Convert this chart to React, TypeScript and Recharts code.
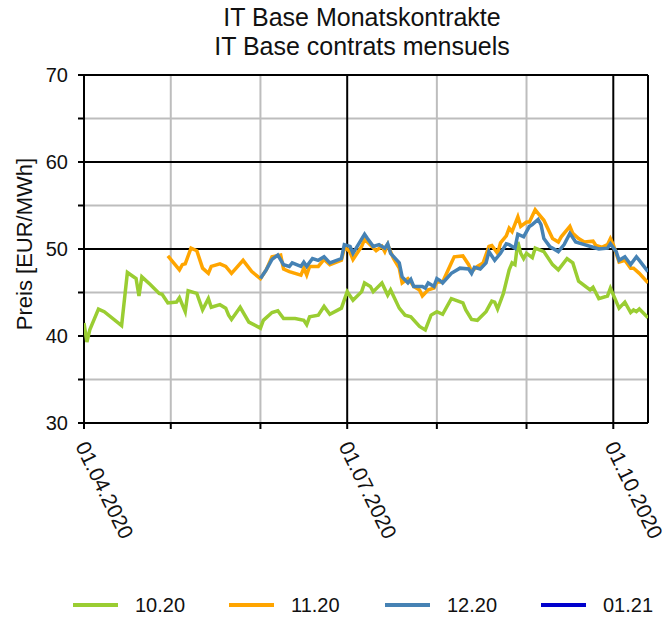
import React from "react";
import {
  LineChart, Line, XAxis, YAxis, ReferenceLine, Legend,
} from "recharts";

// days counted from 01.04.2020
const days1020 = [0, 1, 2, 5, 7, 13, 15, 18, 19, 20, 23, 26, 27, 29, 32, 33, 35, 36, 39, 41, 43, 44, 47, 49, 50, 51, 54, 57, 61, 62, 65, 67, 69, 73, 76, 77, 78, 81, 83, 85, 89, 91, 93, 96, 97, 99, 100, 103, 105, 106, 109, 111, 113, 116, 118, 120, 122, 124, 127, 131, 132, 134, 136, 139, 141, 142, 143, 145, 147, 148, 149, 150, 151, 152, 153, 155, 156, 159, 162, 164, 167, 169, 171, 175, 176, 178, 181, 182, 185, 187, 189, 190, 191, 192, 195];
const price1020 = [41.5, 39.3, 40.7, 43.1, 42.8, 41.2, 47.3, 46.6, 44.6, 46.8, 45.9, 44.9, 44.8, 43.8, 43.9, 44.4, 42.8, 45.2, 44.9, 43.0, 44.3, 43.3, 43.6, 43.2, 42.4, 41.9, 43.3, 41.6, 40.9, 41.8, 42.7, 42.9, 42.0, 42.0, 41.8, 41.3, 42.2, 42.4, 43.4, 42.5, 43.2, 45.1, 44.1, 45.1, 46.1, 45.7, 45.1, 46.1, 44.7, 45.3, 43.2, 42.4, 42.2, 41.1, 40.7, 42.4, 42.8, 42.5, 44.3, 43.8, 43.0, 41.9, 41.8, 42.8, 44.0, 43.9, 43.1, 44.9, 47.6, 48.4, 48.2, 50.8, 49.5, 48.9, 49.5, 49.0, 50.1, 49.7, 48.2, 47.6, 48.9, 48.4, 46.3, 45.3, 45.6, 44.3, 44.6, 45.5, 43.2, 43.9, 42.7, 43.0, 42.8, 43.1, 42.1];

const days1120 = [29, 33, 34, 35, 37, 39, 41, 43, 44, 47, 49, 51, 55, 58, 61, 63, 65, 68, 69, 71, 75, 76, 77, 78, 81, 83, 85, 89, 90, 91, 92, 93, 96, 97, 98, 101, 103, 104, 105, 107, 109, 110, 112, 113, 114, 116, 117, 119, 121, 122, 124, 127, 128, 131, 133, 134, 136, 138, 140, 141, 143, 144, 146, 147, 148, 150, 151, 153, 154, 156, 157, 159, 162, 164, 165, 168, 169, 171, 173, 176, 177, 179, 181, 182, 183, 185, 187, 189, 190, 192, 195];
const price1120 = [49.2, 47.6, 48.2, 48.3, 50.1, 49.8, 47.8, 47.2, 48.0, 48.3, 48.0, 47.2, 48.7, 47.4, 46.6, 47.6, 49.1, 49.3, 47.7, 47.4, 47.0, 47.8, 47.0, 48.0, 48.0, 48.8, 48.2, 48.7, 50.1, 50.0, 49.6, 48.8, 50.3, 51.1, 50.8, 49.8, 50.3, 49.7, 50.5, 48.9, 47.8, 46.1, 46.6, 46.2, 45.7, 45.3, 44.6, 45.3, 45.5, 46.2, 46.2, 48.4, 49.1, 49.2, 48.2, 47.4, 48.0, 48.4, 50.3, 50.4, 49.5, 50.7, 51.5, 52.4, 52.0, 53.7, 52.6, 53.1, 53.1, 54.5, 54.1, 53.3, 51.2, 50.8, 51.4, 52.6, 51.8, 51.2, 50.8, 50.9, 50.4, 50.2, 50.5, 51.2, 50.5, 48.5, 48.7, 47.8, 47.8, 47.2, 46.1];

const days1220 = [61, 63, 65, 67, 69, 71, 72, 75, 76, 77, 79, 81, 83, 85, 89, 90, 92, 93, 97, 98, 100, 102, 104, 105, 106, 109, 110, 112, 113, 114, 117, 118, 119, 121, 122, 123, 124, 127, 130, 133, 134, 135, 137, 139, 140, 142, 144, 146, 147, 149, 150, 152, 154, 155, 157, 158, 159, 161, 164, 166, 168, 170, 173, 176, 178, 181, 182, 184, 185, 187, 189, 191, 192, 195];
const price1220 = [46.6, 47.6, 48.8, 49.3, 48.2, 48.0, 48.4, 48.0, 48.5, 48.0, 48.9, 48.7, 49.1, 48.4, 48.9, 50.5, 50.3, 49.5, 51.7, 51.2, 50.3, 50.5, 50.1, 50.6, 49.5, 48.4, 46.8, 46.1, 46.5, 45.7, 45.7, 45.5, 46.1, 45.7, 46.6, 46.4, 46.1, 47.2, 47.8, 47.7, 47.2, 47.9, 47.7, 48.4, 49.7, 48.7, 49.5, 50.6, 50.5, 50.1, 51.7, 51.4, 52.6, 52.8, 53.4, 52.8, 51.2, 50.3, 49.7, 50.5, 51.8, 50.8, 50.5, 50.2, 50.0, 50.1, 50.6, 49.7, 48.7, 49.1, 48.2, 49.1, 48.7, 47.4];

const seriesNames = ["10.20", "11.20", "12.20", "01.21"];
const seriesColors = ["#9acd32", "#ffa500", "#4682b4", "#0000cd"];

const monthTicks = [0, 30, 61, 91, 122, 153, 183];
const quarterTicks = [0, 91, 183];
const yTicks = [30, 35, 40, 45, 50, 55, 60, 65, 70];
const yMajor = [30, 40, 50, 60, 70];
const yMinor = [35, 45, 55, 65];
const X_MAX = 195;

const DAY0 = Date.UTC(2020, 3, 1);
const FONT = "'Liberation Sans', Arial, sans-serif";

function toRows(days: number[], prices: number[]) {
  return days.map((d, i) => ({ d, v: prices[i] }));
}

const seriesData = [
  toRows(days1020, price1020),
  toRows(days1120, price1120),
  toRows(days1220, price1220),
  [] as { d: number; v: number }[],
];

function dayLabel(d: number): string {
  const dt = new Date(DAY0 + d * 86400000);
  const dd = String(dt.getUTCDate()).padStart(2, "0");
  const mm = String(dt.getUTCMonth() + 1).padStart(2, "0");
  return `${dd}.${mm}.${dt.getUTCFullYear()}`;
}

const XTick = ({ x, y, payload }: any) => {
  if (!quarterTicks.includes(payload.value)) return null;
  return (
    <text
      transform={`translate(${x - 9},${y + 15}) rotate(64)`}
      fontSize={21} fontFamily={FONT} fill="#111" textAnchor="start"
    >
      {dayLabel(payload.value)}
    </text>
  );
};

const YTick = ({ x, y, payload }: any) => {
  if (!yMajor.includes(payload.value)) return null;
  return (
    <text x={x} y={y} dy={7} fontSize={20} fontFamily={FONT} fill="#111" textAnchor="end">
      {payload.value}
    </text>
  );
};

const LegendContent = () => (
  <div style={{ position: "relative", width: 668, height: 30, fontFamily: FONT }}>
    {seriesNames.map((name, i) => (
      <div key={name} style={{ position: "absolute", left: 73 + i * 156, top: 0, display: "flex", alignItems: "center", height: 30 }}>
        <div style={{ width: 45, height: 4, background: seriesColors[i] }} />
        <span style={{ marginLeft: 17, fontSize: 20, color: "#111" }}>{name}</span>
      </div>
    ))}
  </div>
);

export default function App() {
  return (
    <div style={{ position: "absolute", left: 0, top: 0, width: 668, height: 621, background: "#fff", fontFamily: FONT }}>
      <div style={{ position: "absolute", left: 56, top: 3, width: 612, textAlign: "center", fontSize: 25, lineHeight: "29px", color: "#111" }}>
        <div>IT Base Monatskontrakte</div>
        <div>IT Base contrats mensuels</div>
      </div>
      <LineChart width={668} height={621} margin={{ top: 75, right: 20, bottom: 168, left: 24 }}>
        <XAxis
          dataKey="d" type="number" domain={[0, X_MAX]} ticks={monthTicks}
          allowDataOverflow axisLine={false} tickSize={6}
          tickLine={{ stroke: "#000", strokeWidth: 2 }} tick={<XTick />} height={30}
        />
        <YAxis
          type="number" domain={[30, 70]} ticks={yTicks} allowDataOverflow
          axisLine={false} tickSize={6} tickMargin={10}
          tickLine={{ stroke: "#000", strokeWidth: 2 }} tick={<YTick />} width={60}
          label={{
            content: () => (
              <text x={32} y={244} transform="rotate(-90 32 244)" textAnchor="middle" fontSize={22} fontFamily={FONT} fill="#111">
                Preis [EUR/MWh]
              </text>
            ),
          }}
        />
        {monthTicks.filter((t) => !quarterTicks.includes(t)).map((t) => (
          <ReferenceLine key={`vx${t}`} x={t} stroke="#bdbdbd" strokeWidth={2} />
        ))}
        {yMinor.map((t) => (
          <ReferenceLine key={`hy${t}`} y={t} stroke="#bdbdbd" strokeWidth={2} />
        ))}
        {[...quarterTicks, X_MAX].map((t) => (
          <ReferenceLine key={`qx${t}`} x={t} stroke="#000" strokeWidth={2} />
        ))}
        {yMajor.map((t) => (
          <ReferenceLine key={`my${t}`} y={t} stroke="#000" strokeWidth={2} />
        ))}
        {seriesNames.map((name, i) => (
          <Line
            key={name} data={seriesData[i]} dataKey="v" name={name} type="linear"
            stroke={seriesColors[i]} strokeWidth={3.5} dot={false} activeDot={false}
            isAnimationActive={false}
          />
        ))}
        <Legend
          layout="horizontal" verticalAlign="middle" align="center"
          wrapperStyle={{ left: 0, top: 590, width: 668 }}
          content={<LegendContent />}
        />
      </LineChart>
    </div>
  );
}
